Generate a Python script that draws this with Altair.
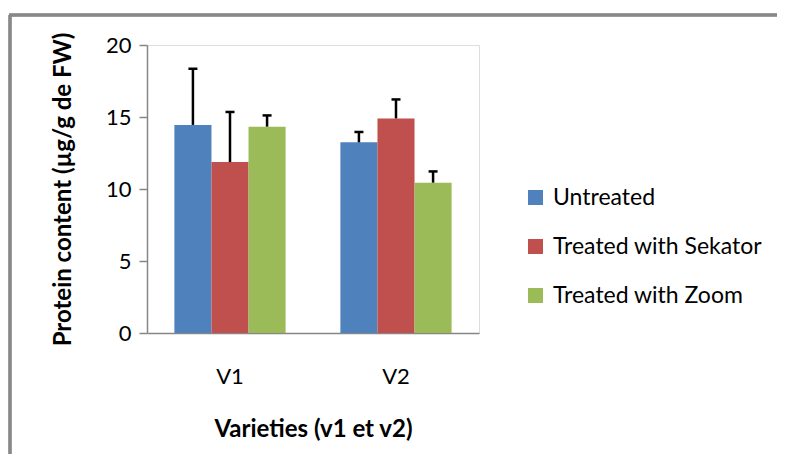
import altair as alt
import pandas as pd

varieties = ["V1", "V1", "V1", "V2", "V2", "V2"]
treatments = ["Untreated", "Treated with Sekator", "Treated with Zoom",
              "Untreated", "Treated with Sekator", "Treated with Zoom"]
means = [14.45, 11.87, 14.33, 13.24, 14.90, 10.44]
errors = [3.90, 3.48, 0.78, 0.72, 1.32, 0.78]

series_order = ["Untreated", "Treated with Sekator", "Treated with Zoom"]
series_colors = ["#4F81BD", "#C0504D", "#9BBB59"]
y_ticks = [0, 5, 10, 15, 20]

df = pd.DataFrame({
    "Variety": varieties,
    "Treatment": treatments,
    "Mean": means,
    "Upper": [m + e for m, e in zip(means, errors)],
})

FONT = "Lato"
AXIS_GRAY = "#868686"

x_enc = alt.X(
    "Variety:N",
    scale=alt.Scale(paddingInner=0.33, paddingOuter=0.165),
    axis=alt.Axis(
        title="Varieties (v1 et v2)",
        labelAngle=0,
        ticks=False,
        domainColor=AXIS_GRAY,
        domainWidth=1.5,
        labelFontSize=22,
        labelColor="black",
        labelPadding=33,
        titleFontSize=24,
        titleFontWeight="bold",
        titleColor="black",
        titlePadding=30,
    ),
)
xoff_enc = alt.XOffset("Treatment:N", sort=series_order,
                       scale=alt.Scale(paddingInner=0, paddingOuter=0))

y_scale = alt.Scale(domain=[0, 20], nice=False)

bars = alt.Chart(df).mark_bar().encode(
    x=x_enc,
    xOffset=xoff_enc,
    y=alt.Y(
        "Mean:Q",
        scale=y_scale,
        axis=alt.Axis(
            title="Protein content (µg/g de FW)",
            values=y_ticks,
            grid=False,
            domainColor=AXIS_GRAY,
            domainWidth=1.5,
            tickColor=AXIS_GRAY,
            tickWidth=1.5,
            tickSize=8,
            labelFontSize=22,
            labelColor="black",
            labelPadding=8,
            titleFontSize=24,
            titleFontWeight="bold",
            titleColor="black",
            titlePadding=30,
        ),
    ),
    color=alt.Color(
        "Treatment:N",
        sort=series_order,
        scale=alt.Scale(domain=series_order, range=series_colors),
        legend=alt.Legend(
            title=None,
            orient="none",
            legendX=377,
            legendY=141,
            symbolType="square",
            symbolSize=225,
            symbolStrokeWidth=0,
            labelFontSize=23,
            labelColor="black",
            labelOffset=6,
            labelLimit=400,
            rowPadding=25,
            padding=0,
        ),
    ),
)

err = alt.Chart(df).mark_rule(color="black", strokeWidth=2.5).encode(
    x=alt.X("Variety:N"),
    xOffset=xoff_enc,
    y=alt.Y("Mean:Q", scale=y_scale),
    y2="Upper:Q",
)

caps = alt.Chart(df).mark_tick(color="black", size=9, thickness=2.5, opacity=1).encode(
    x=alt.X("Variety:N"),
    xOffset=xoff_enc,
    y=alt.Y("Upper:Q", scale=y_scale),
)

frame_top = alt.Chart(df).mark_rule(color="#888888", strokeWidth=2.5).encode(
    x=alt.value(-138), x2=alt.value(640), y=alt.value(-30)
)
frame_left = alt.Chart(df).mark_rule(color="#888888", strokeWidth=2.5).encode(
    x=alt.value(-137), y=alt.value(-30), y2=alt.value(430)
)

chart = alt.layer(bars, err, caps, frame_top, frame_left).properties(
    width=332,
    height=288,
    padding={"left": 139, "top": 37, "right": 298, "bottom": 121},
    autosize=alt.AutoSizeParams(type="none"),
).configure_view(stroke=None).configure(font=FONT)

chart.save("out.html", embed_options={"renderer": "svg", "actions": False})
